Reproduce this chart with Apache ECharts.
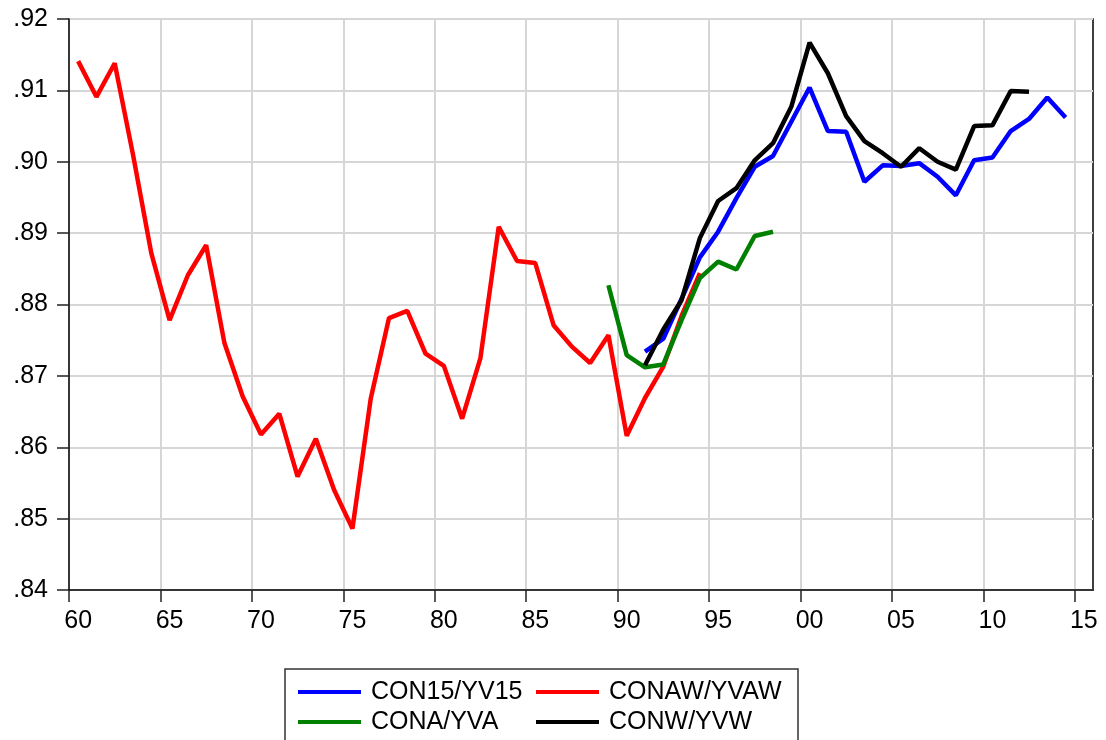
<!DOCTYPE html>
<html lang="en">
  <head>
    <meta charset="UTF-8" />
    <title>CON / YV ratios</title>
    <script src="https://cdn.jsdelivr.net/npm/echarts@6/dist/echarts.min.js"></script>
  </head>
  <body style="margin:0;background:#fff">
    <div id="container" style="width: 1106px;height: 740px"></div>
    <script>
      // series: first year + yearly values
      var con15Start = 1991
      var con15 = [0.8734, 0.8752, 0.8808, 0.8866, 0.8902, 0.8949, 0.8993, 0.9008, 0.9056, 0.9104, 0.9043, 0.9042,
        0.8972, 0.8995, 0.8994, 0.8998, 0.8979, 0.8953, 0.9002, 0.9006, 0.9043, 0.9060, 0.9090, 0.9062]
      var conawStart = 1960
      var conaw = [0.9141, 0.9091, 0.9138, 0.9010, 0.8872, 0.8778, 0.8841, 0.8883, 0.8746, 0.8671, 0.8618, 0.8647,
        0.8559, 0.8612, 0.8540, 0.8486, 0.8668, 0.8781, 0.8791, 0.8731, 0.8714, 0.8640, 0.8725, 0.8909, 0.8861,
        0.8858, 0.8771, 0.8741, 0.8718, 0.8757, 0.8616, 0.8669, 0.8713, 0.8784, 0.8844]
      var conaStart = 1989
      var cona = [0.8827, 0.8729, 0.8712, 0.8716, 0.8778, 0.8837, 0.8860, 0.8849, 0.8896, 0.8902]
      var conwStart = 1991
      var conw = [0.8715, 0.8765, 0.8806, 0.8893, 0.8945, 0.8963, 0.9002, 0.9026, 0.9077, 0.9167, 0.9124, 0.9064,
        0.9029, 0.9012, 0.8993, 0.9019, 0.9000, 0.8989, 0.9050, 0.9051, 0.9099, 0.9098]

      var tickYears = [1960, 1965, 1970, 1975, 1980, 1985, 1990, 1995, 2000, 2005, 2010, 2015]
      var names = ['CON15/YV15', 'CONAW/YVAW', 'CONA/YVA', 'CONW/YVW']

      // observations sit in the middle of each year
      function toPoints(start, vals) {
        return vals.map(function (v, i) { return [start + i + 0.5, v] })
      }

      var font = "'Liberation Sans', Arial, sans-serif"
      var myChart = echarts.init(document.querySelector('#container'))

      function line(name, color, start, vals) {
        return {
          name: name,
          type: 'line',
          data: toPoints(start, vals),
          symbol: 'none',
          lineStyle: { color: color, width: 4.5 },
          itemStyle: { color: color },
          animation: false
        }
      }

      var legendBase = {
        orient: 'vertical',
        top: 679,
        padding: 0,
        itemGap: 4,
        itemWidth: 63,
        itemHeight: 4,
        icon: 'rect',
        textStyle: { fontFamily: font, fontSize: 25, color: '#000', lineHeight: 26, padding: [0, 0, 0, 5] }
      }

      myChart.setOption({
        backgroundColor: '#fff',
        grid: { left: 69, right: 13, top: 19, bottom: 150, show: true, borderColor: '#000', borderWidth: 1.5 },
        xAxis: {
          type: 'value',
          min: 1960,
          max: 2016,
          axisLine: { show: true, lineStyle: { color: '#000', width: 1.5 } },
          axisTick: { show: true, customValues: tickYears, length: 12, lineStyle: { color: '#222', width: 1.5 } },
          splitLine: { show: true, lineStyle: { color: '#d6d6d6', width: 2 } },
          axisLabel: {
            customValues: tickYears.map(function (y) { return y + 0.5 }),
            margin: 19,
            fontFamily: font,
            fontSize: 25,
            color: '#000',
            formatter: function (v) { return String(Math.floor(v) % 100).padStart(2, '0') }
          }
        },
        yAxis: {
          type: 'value',
          min: 0.84,
          max: 0.92,
          interval: 0.01,
          axisLine: { show: true, lineStyle: { color: '#000', width: 1.5 } },
          axisTick: { show: true, length: 12, lineStyle: { color: '#222', width: 1.5 } },
          splitLine: { show: true, lineStyle: { color: '#d6d6d6', width: 2 } },
          axisLabel: {
            margin: 21,
            fontFamily: font,
            fontSize: 25,
            color: '#000',
            formatter: function (v) { return v.toFixed(2).replace(/^0/, '') }
          }
        },
        legend: [
          Object.assign({ left: 298, data: [names[0], names[2]] }, legendBase),
          Object.assign({ left: 536, data: [names[1], names[3]] }, legendBase)
        ],
        graphic: [{
          type: 'rect',
          shape: { x: 285, y: 669, width: 513, height: 90 },
          style: { fill: 'none', stroke: '#333', lineWidth: 1.5 }
        }],
        series: [
          line(names[0], '#0000ff', con15Start, con15),
          line(names[1], '#ff0000', conawStart, conaw),
          line(names[2], '#008000', conaStart, cona),
          line(names[3], '#000000', conwStart, conw)
        ]
      })
    </script>
  </body>
</html>
